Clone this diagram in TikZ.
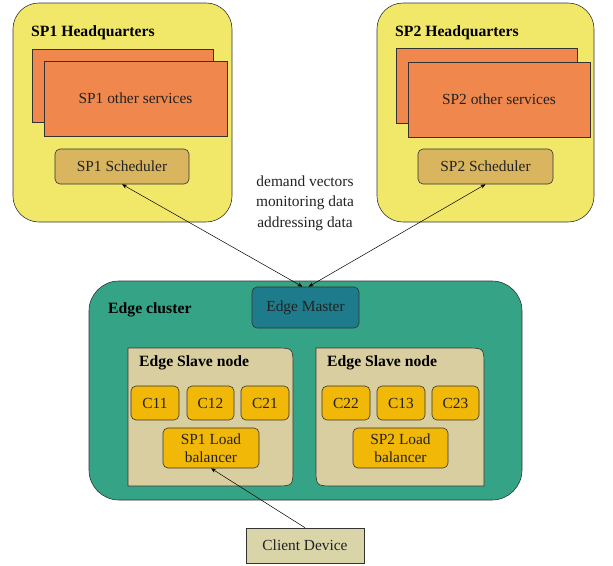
\documentclass[tikz,border=0pt]{standalone}
\usepackage{fontspec}
\setmainfont{Liberation Serif}
\usetikzlibrary{arrows.meta}
\definecolor{hqyellow}{HTML}{F1E86A}
\definecolor{svcorange}{HTML}{F0874C}
\definecolor{schedtan}{HTML}{D8B55E}
\definecolor{clusterteal}{HTML}{35A386}
\definecolor{masterteal}{HTML}{1E7B8B}
\definecolor{slavebeige}{HTML}{D9CE9F}
\definecolor{cgold}{HTML}{F2B807}
\definecolor{clientbeige}{HTML}{D9D5A8}
\definecolor{edgeline}{HTML}{333333}
\definecolor{txt}{HTML}{222222}
\tikzset{
  base/.style={draw=edgeline, line width=0.6pt, inner sep=0pt, align=center, text=txt,
    font=\fontsize{15.4}{18}\selectfont},
  hq/.style={base, fill=hqyellow, rounded corners=26pt},
  svc/.style={base, fill=svcorange},
  sched/.style={base, fill=schedtan, rounded corners=5pt},
  cluster/.style={base, fill=clusterteal, rounded corners=30pt},
  master/.style={base, fill=masterteal, rounded corners=5pt},
  slavearea/.style={draw=edgeline, line width=0.6pt, fill=slavebeige},
  ghost/.style={inner sep=0pt, draw=none},
  cbox/.style={base, fill=cgold, rounded corners=5pt},
  client/.style={base, fill=clientbeige},
  title/.style={anchor=west, inner sep=0pt, text=black, font=\fontsize{15.7}{18}\selectfont\bfseries},
  link/.style={draw=black, line width=0.5pt},
  tip/.style={-{Stealth[length=5pt,width=4pt]}},
  tips/.style={{Stealth[length=5pt,width=4pt]}-{Stealth[length=5pt,width=4pt]}}
}
\begin{document}
\begin{tikzpicture}[x=1pt,y=-1pt]
\useasboundingbox[fill=white] (0,0) rectangle (613,565);

% Headquarters
\node[hq, minimum width=219pt, minimum height=219pt] (hq1) at (122.5,112.5) {};
\node[title] (hq1t) at (31,33) {SP1 Headquarters};
\node[svc, minimum width=181pt, minimum height=73pt] (svc1b) at (122.5,85.5) {};
\node[svc, minimum width=183pt, minimum height=75pt] (svc1) at (135.5,98.5) {SP1 other services};
\node[sched, minimum width=134pt, minimum height=35pt] (sch1) at (122,166.5) {SP1 Scheduler};

\node[hq, minimum width=217pt, minimum height=219pt] (hq2) at (485.5,112.5) {};
\node[title] (hq2t) at (395,33) {SP2 Headquarters};
\node[svc, minimum width=181pt, minimum height=75pt] (svc2b) at (486.5,85.5) {};
\node[svc, minimum width=182pt, minimum height=75pt] (svc2) at (499,99.5) {SP2 other services};
\node[sched, minimum width=135pt, minimum height=35pt] (sch2) at (485.5,166.5) {SP2 Scheduler};

% data label
\node[base, draw=none, align=center, font=\fontsize{15.4}{20.5}\selectfont] (data) at (305,203)
  {demand vectors\\monitoring data\\addressing data};

% Edge cluster
\node[cluster, minimum width=433pt, minimum height=219pt] (cl) at (305.5,390.5) {};
\node[title] (clt) at (108,310) {Edge cluster};
\node[master, minimum width=107pt, minimum height=41pt] (em) at (305.5,307.5) {Edge Master};

% slave nodes
\node[ghost, minimum width=165pt, minimum height=138pt] (sl1) at (210.5,417) {};
\path[slavearea] (128,486) -- (128,348) -- (275,348) .. controls (293,348) .. (293,366)
  -- (293,468) .. controls (293,486) .. (275,486) -- cycle;
\node[ghost, minimum width=168pt, minimum height=138pt] (sl2) at (400,417) {};
\path[slavearea] (316,348) -- (466,348) .. controls (484,348) .. (484,366)
  -- (484,486) -- (334,486) .. controls (316,486) .. (316,468) -- cycle;
\node[title] (sl1t) at (139,363) {Edge Slave node};
\node[title] (sl2t) at (327,363) {Edge Slave node};

\node[cbox, minimum width=48pt, minimum height=34pt] (c11) at (155,403) {C11};
\node[cbox, minimum width=47pt, minimum height=34pt] (c12) at (210.5,403) {C12};
\node[cbox, minimum width=48pt, minimum height=34pt] (c21) at (265,403) {C21};
\node[cbox, minimum width=48pt, minimum height=34pt] (c22) at (346,403) {C22};
\node[cbox, minimum width=48pt, minimum height=34pt] (c13) at (401,403) {C13};
\node[cbox, minimum width=47pt, minimum height=34pt] (c23) at (455.5,403) {C23};

\node[cbox, minimum width=96pt, minimum height=40pt, font=\fontsize{15.4}{18}\selectfont] (lb1) at (211,448) {SP1 Load\\balancer};
\node[cbox, minimum width=95pt, minimum height=40pt, font=\fontsize{15.4}{18}\selectfont] (lb2) at (400.5,448) {SP2 Load\\balancer};

% client
\node[client, minimum width=118pt, minimum height=35pt] (cd) at (305,545.5) {Client Device};

% connectors
\draw[link, tips] (sch1.south) -- ([xshift=-3pt]em.north);
\draw[link, tips] (sch2.south) -- ([xshift=3pt]em.north);
\draw[link, tip] (cd.north) -- (lb1.south);
\end{tikzpicture}
\end{document}
